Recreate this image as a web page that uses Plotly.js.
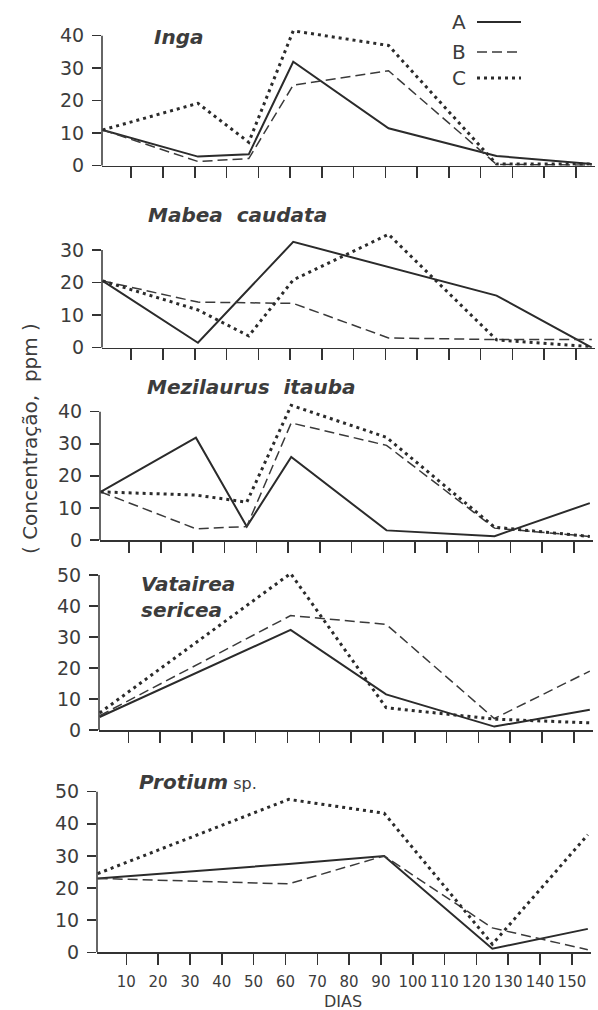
<!DOCTYPE html>
<html>
<head>
<meta charset="utf-8">
<script src="https://cdn.plot.ly/plotly-3.0.1.min.js"></script>
<style>html,body{margin:0;padding:0;background:#fff;}#chart{width:598px;height:1010px;}</style>
</head>
<body>
<div id="chart"></div>
<script>
// ---- data (days after start, concentration in ppm) ----
var days = [1, 31, 47, 61, 91, 125, 155];
var seriesNames = ["A", "B", "C"];
var panelTitles = ["<b><i>Inga</i></b>", "<b><i>Mabea  caudata</i></b>", "<b><i>Mezilaurus  itauba</i></b>", "<b><i>Vatairea</i></b><br><b><i>sericea</i></b>", "<b><i>Protium</i></b><span style='font-size:16px'> sp.</span>"];

var ingaA = [11, 2.8, 3.5, 32, 11.5, 3, 0.5];
var ingaB = [11, 1.3, 2.2, 24.8, 29.2, 0.4, 0.2];
var ingaC = [11, 19.2, 7.2, 41.5, 37, 0.5, 0.5];

var mabeaA = [20.5, 1.5, null, 32.5, null, 16, 0];
var mabeaB = [20.5, 14, null, 13.6, 3, 2.5, 2.5];
var mabeaC = [20.5, 11.6, 3.6, 20.8, 34.8, 2.4, 0.3];

var mezilaurusA = [15, 31.9, 4.2, 25.9, 3, 1.2, 11.5];
var mezilaurusB = [15, 3.5, 4.2, 36.5, 29.5, 3.7, 1.1];
var mezilaurusC = [15, 14, 11.8, 42, 32, 4, 1.1];

var vatairaA = [4.2, null, null, 32.3, 11.5, 1.1, 6.5];
var vatairaB = [4.6, null, null, 36.9, 34.1, 3.7, 19];
var vatairaC = [5.5, null, null, 50.5, 7.2, 3.5, 2.3];

var protiumA = [23, null, null, 27.5, 30, 1.1, 7.3];
var protiumB = [23, null, null, 21.3, 30, 7.6, 0.8];
var protiumC = [24.5, null, null, 47.6, 43.3, 2.5, 36.6];

var xTickVals = [10, 20, 30, 40, 50, 60, 70, 80, 90, 100, 110, 120, 130, 140, 150];
var xTickText = ["10", "20", "30", "40", "50", "60", "70", "80", "90", "100", "110", "120", "130", "140", "150"];
var yTopTicks = [40, 30, 40, 50, 50];
var xLabel = "DIAS";
var yLabel = "( Concentração,  ppm )";

var panels = [
  [ingaA, ingaB, ingaC],
  [mabeaA, mabeaB, mabeaC],
  [mezilaurusA, mezilaurusB, mezilaurusC],
  [vatairaA, vatairaB, vatairaC],
  [protiumA, protiumB, protiumC]
];

// ---- layout geometry (pixels) ----
var W = 598, H = 1010;
function px(x) { return x / W; }
function py(y) { return 1 - y / H; }
// [left px, right px, zero px, px per 10 units, range top]
var geom = [
  [102, 595, 165.7, 32.5, 44],
  [102, 595, 347.7, 32.57, 37],
  [100, 593, 540.0, 32.08, 44],
  [99, 593, 730.0, 31.0, 53],
  [97, 591, 952.3, 32.12, 52]
];
var styles = [
  {color: "#2b2b2b", width: 2, dash: "solid"},
  {color: "#3a3a3a", width: 1.5, dash: "10px,5px"},
  {color: "#2b2b2b", width: 3, dash: "3px,4px"}
];
var titlePos = [[152, 37], [146, 215], [145, 387], [139, 597], [137, 782]];

var ink = "#3c3c3c";
var fontFam = "DejaVu Sans, sans-serif";
var traces = [];
var layout = {
  width: W, height: H,
  margin: {l: 0, r: 0, t: 0, b: 0},
  paper_bgcolor: "#fff", plot_bgcolor: "rgba(0,0,0,0)",
  showlegend: false,
  font: {family: fontFam, color: ink},
  shapes: [], annotations: []
};

panels.forEach(function (series, p) {
  var g = geom[p];
  var sfx = p === 0 ? "" : String(p + 1);
  var xa = "x" + sfx, ya = "y" + sfx;
  series.forEach(function (vals, s) {
    traces.push({
      type: "scatter", mode: "lines", x: days, y: vals,
      xaxis: xa, yaxis: ya, name: seriesNames[s], connectgaps: true,
      line: styles[s], hoverinfo: "skip"
    });
  });
  var top = g[2] - g[4] * g[3] / 10;
  var yt = [];
  for (var v = 0; v <= yTopTicks[p]; v += 10) yt.push(v);
  layout["xaxis" + sfx] = {
    domain: [px(g[0]), px(g[1])], range: [0.8, 156], anchor: ya,
    showgrid: false, zeroline: false, showline: true, linecolor: "#333", linewidth: 1.5,
    ticks: "outside", ticklen: 11, tickwidth: 1.5, tickcolor: "#333",
    tickmode: "array", tickvals: xTickVals, ticktext: xTickText, tickangle: 0,
    showticklabels: p === 4, tickfont: {family: fontFam, size: 15, color: ink},
    ticklabelstandoff: 4, fixedrange: true
  };
  layout["yaxis" + sfx] = {
    domain: [py(g[2]), py(top)], range: [0, g[4]], anchor: xa,
    showgrid: false, zeroline: false, showline: false,
    ticks: "outside", ticklen: 9, tickwidth: 1.5, tickcolor: "#333",
    tickmode: "array", tickvals: yt, ticktext: yt.map(String),
    tickfont: {family: fontFam, size: 19, color: ink}, ticklabelstandoff: 4,
    fixedrange: true
  };
  layout.shapes.push({
    type: "line", xref: xa + " domain", yref: ya, x0: 0, x1: 0, y0: 0, y1: yTopTicks[p],
    line: {color: "#333", width: 1.5}
  });
  layout.annotations.push({
    xref: "paper", yref: "paper", x: px(titlePos[p][0]), y: py(titlePos[p][1]),
    xanchor: "left", yanchor: "middle", showarrow: false, align: "left",
    text: panelTitles[p], font: {family: fontFam, size: 20, color: ink}
  });
});

// legend (top right)
var legY = [22, 52, 78];
seriesNames.forEach(function (n, s) {
  layout.annotations.push({
    xref: "paper", yref: "paper", x: px(459), y: py(legY[s]), xanchor: "center", yanchor: "middle",
    showarrow: false, text: n, font: {family: fontFam, size: 20, color: ink}
  });
  layout.shapes.push({
    type: "line", xref: "paper", yref: "paper", x0: px(477), x1: px(521), y0: py(legY[s]), y1: py(legY[s]),
    line: {color: styles[s].color, width: styles[s].width, dash: styles[s].dash}
  });
});

// axis titles
layout.annotations.push({
  xref: "paper", yref: "paper", x: px(343), y: py(1001), xanchor: "center", yanchor: "middle",
  showarrow: false, text: xLabel, font: {family: fontFam, size: 16, color: ink}
});
layout.annotations.push({
  xref: "paper", yref: "paper", x: px(30), y: py(439), xanchor: "center", yanchor: "middle",
  showarrow: false, textangle: -90, text: yLabel, font: {family: fontFam, size: 20, color: ink}
});

Plotly.newPlot("chart", traces, layout, {staticPlot: true, displayModeBar: false});
</script>
</body>
</html>
